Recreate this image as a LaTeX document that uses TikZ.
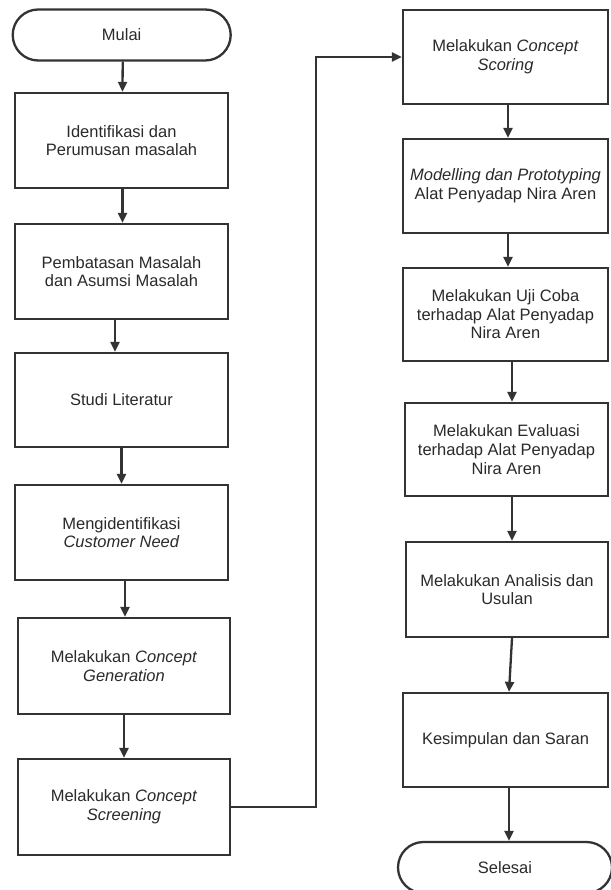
\documentclass[tikz,border=0pt]{standalone}
\usepackage{fontspec}
\setmainfont{Liberation Sans}
\usetikzlibrary{arrows.meta,shapes.misc}
\definecolor{ln}{HTML}{333333}
\definecolor{tx}{HTML}{2a2a2a}
\tikzset{
  box/.style={draw=ln, line width=2.3pt, rectangle, align=center, text=tx,
    font=\fontsize{16.5}{18.6}\selectfont, inner sep=0pt},
  term/.style={draw=ln, line width=2.3pt, rounded rectangle, align=center, text=tx,
    font=\fontsize{16.5}{18.6}\selectfont, inner sep=0pt},
  flow/.style={draw=ln, line width=2.3pt, -{Triangle[length=10pt,width=9pt]}}
}
\begin{document}
\begin{tikzpicture}[x=1pt,y=-1pt]
\useasboundingbox (0,0) rectangle (610,890);
% left column
\node[term, minimum width=218pt, minimum height=51pt] (start) at (121.7,35) {Mulai};
\node[box, minimum width=213pt, minimum height=95pt] (b1) at (121.5,140.5) {Identifikasi dan\\Perumusan masalah};
\node[box, minimum width=213pt, minimum height=95pt] (b2) at (121.5,271.5) {Pembatasan Masalah\\dan Asumsi Masalah};
\node[box, minimum width=213pt, minimum height=94pt] (b3) at (121.5,400) {Studi Literatur};
\node[box, minimum width=213pt, minimum height=95pt] (b4) at (121.5,532.5) {Mengidentifikasi\\\textit{Customer Need}};
\node[box, minimum width=212pt, minimum height=96pt] (b5) at (124,666) {Melakukan \textit{Concept}\\\textit{Generation}};
\node[box, minimum width=212pt, minimum height=96pt] (b6) at (124,807) {Melakukan \textit{Concept}\\\textit{Screening}};
% right column
\node[box, minimum width=205pt, minimum height=94pt] (r1) at (505.5,57) {Melakukan \textit{Concept}\\\textit{Scoring}};
\node[box, minimum width=205pt, minimum height=94pt] (r2) at (505.5,186) {\textit{Modelling dan Prototyping}\\Alat Penyadap Nira Aren};
\node[box, minimum width=205pt, minimum height=93pt] (r3) at (505.5,314.5) {Melakukan Uji Coba\\terhadap Alat Penyadap\\Nira Aren};
\node[box, minimum width=203pt, minimum height=93pt] (r4) at (506.5,449.5) {Melakukan Evaluasi\\terhadap Alat Penyadap\\Nira Aren};
\node[box, minimum width=202pt, minimum height=95pt] (r5) at (507,589.5) {Melakukan Analisis dan\\Usulan};
\node[box, minimum width=205pt, minimum height=94pt] (r6) at (505.5,740) {Kesimpulan dan Saran};
\node[term, minimum width=214pt, minimum height=51pt] (end) at (505,867.5) {Selesai};
% connectors
\draw[flow] ([xshift=1pt]start.south) -- ([xshift=1pt]b1.north);
\draw[flow] ([xshift=1pt]b1.south) -- ([xshift=1pt]b2.north);
\draw[flow] ([xshift=-6.5pt]b2.south) -- ([xshift=-6.5pt]b3.north);
\draw[flow] (b3) -- (b4);
\draw[flow] ([xshift=3.5pt]b4.south) -- ([xshift=1pt]b5.north);
\draw[flow] (b5) -- (b6);
\coordinate (p1) at (316,807);
\coordinate (p2) at (316,57);
\draw[flow] (b6.east) -- (p1) -- (p2) -- (r1.west);
\draw[flow] ([xshift=2.5pt]r1.south) -- ([xshift=2.5pt]r2.north);
\draw[flow] ([xshift=2.5pt]r2.south) -- ([xshift=2.5pt]r3.north);
\draw[flow] ([xshift=6.5pt]r3.south) -- ([xshift=5.5pt]r4.north);
\draw[flow] ([xshift=5.5pt]r4.south) -- ([xshift=5pt]r5.north);
\draw[flow] ([xshift=5pt]r5.south) -- ([xshift=3.5pt]r6.north);
\draw[flow] ([xshift=3.5pt]r6.south) -- ([xshift=4pt]end.north);
\end{tikzpicture}
\end{document}
